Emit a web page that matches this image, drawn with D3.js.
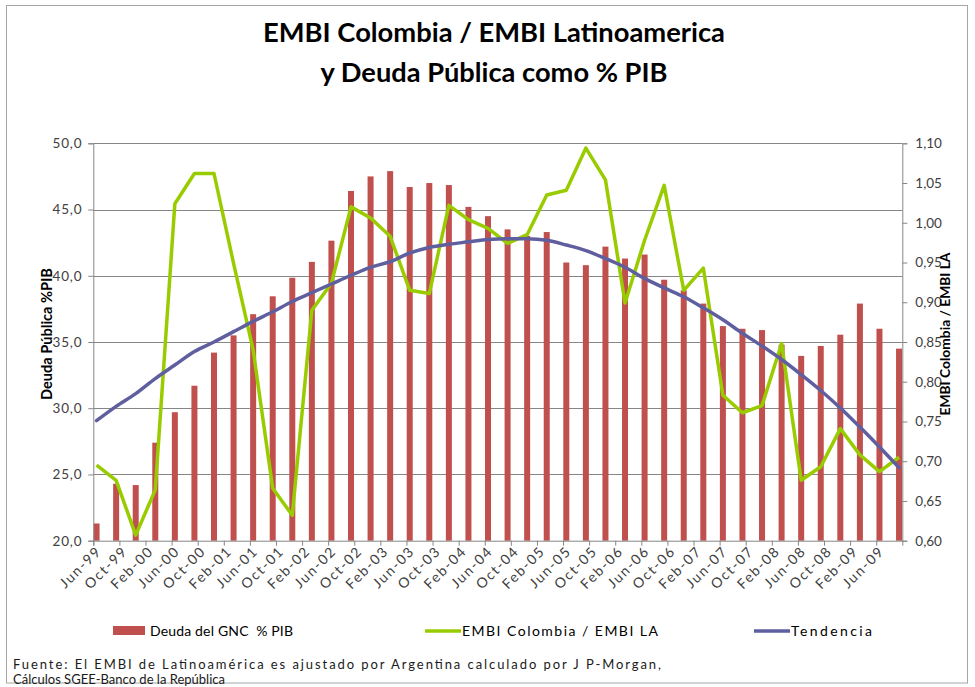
<!DOCTYPE html>
<html>
<head>
<meta charset="utf-8">
<script src="https://cdn.jsdelivr.net/npm/d3@7/dist/d3.min.js"></script>
<style>
  html, body { margin: 0; padding: 0; background: #fff; }
  svg { display: block; }
</style>
</head>
<body>
<svg id="chart" width="975" height="687"></svg>
<script>
// Quarterly observations, Jun-99 .. Sep-09
const quarters = ["Jun-99","Sep-99","Dec-99","Mar-00","Jun-00","Sep-00","Dec-00","Mar-01","Jun-01","Sep-01","Dec-01","Mar-02","Jun-02","Sep-02","Dec-02","Mar-03","Jun-03","Sep-03","Dec-03","Mar-04","Jun-04","Sep-04","Dec-04","Mar-05","Jun-05","Sep-05","Dec-05","Mar-06","Jun-06","Sep-06","Dec-06","Mar-07","Jun-07","Sep-07","Dec-07","Mar-08","Jun-08","Sep-08","Dec-08","Mar-09","Jun-09","Sep-09"];

// Deuda del GNC como % del PIB (left axis)
const deuda = [21.3,24.3,24.2,27.4,29.7,31.7,34.2,35.5,37.1,38.45,39.85,41.05,42.65,46.4,47.5,47.9,46.7,47.0,46.85,45.2,44.5,43.5,43.0,43.3,41.0,40.8,42.2,41.3,41.6,39.7,38.9,37.9,36.2,36.0,35.9,34.8,33.95,34.7,35.55,37.9,36.0,34.5];

// EMBI Colombia / EMBI LA (right axis)
const embi = [0.695,0.676,0.607,0.664,1.024,1.062,1.062,0.949,0.840,0.666,0.632,0.890,0.924,1.020,1.006,0.983,0.915,0.911,1.022,1.004,0.993,0.974,0.985,1.035,1.041,1.094,1.054,0.899,0.978,1.047,0.915,0.943,0.783,0.761,0.770,0.848,0.676,0.693,0.741,0.708,0.687,0.705];

// Tendencia del cociente EMBI (right axis)
const tendencia = [0.751,0.769,0.785,0.804,0.821,0.838,0.850,0.863,0.876,0.888,0.901,0.912,0.923,0.934,0.944,0.951,0.962,0.969,0.973,0.976,0.979,0.980,0.980,0.978,0.972,0.965,0.955,0.944,0.930,0.918,0.907,0.893,0.878,0.861,0.845,0.828,0.809,0.789,0.767,0.743,0.718,0.692];

// Category axis labels (every four months)
const xTickLabels = ["Jun-99","Oct-99","Feb-00","Jun-00","Oct-00","Feb-01","Jun-01","Oct-01","Feb-02","Jun-02","Oct-02","Feb-03","Jun-03","Oct-03","Feb-04","Jun-04","Oct-04","Feb-05","Jun-05","Oct-05","Feb-06","Jun-06","Oct-06","Feb-07","Jun-07","Oct-07","Feb-08","Jun-08","Oct-08","Feb-09","Jun-09"];

const leftTicks = [20,25,30,35,40,45,50];
const rightTicks = [0.60,0.65,0.70,0.75,0.80,0.85,0.90,0.95,1.00,1.05,1.10];

const titleLines = ["EMBI Colombia / EMBI Latinoamerica", "y Deuda Pública como % PIB"];
const legendLabels = ["Deuda del GNC  % PIB", "EMBI Colombia / EMBI LA", "Tendencia"];
const sourceLines = ["Fuente: El EMBI de Latinoamérica es ajustado por Argentina calculado por J P-Morgan,", "Cálculos SGEE-Banco de la República"];

// ---- helpers ----
const monthNames = {Jan:0,Feb:1,Mar:2,Apr:3,May:4,Jun:5,Jul:6,Aug:7,Sep:8,Oct:9,Nov:10,Dec:11};
// months elapsed since Jun-99
function monthIndex(label) {
  const [m, y] = label.split("-");
  return (2000 + (+y > 50 ? +y - 100 : +y) - 1999) * 12 + monthNames[m] - 5;
}
const fmt1 = d => d.toFixed(1).replace(".", ",");
const fmt2 = d => d.toFixed(2).replace(".", ",");
function fitWidth(sel, w) {
  const cur = sel.node().getComputedTextLength();
  const fs = parseFloat(sel.attr("font-size"));
  sel.attr("font-size", (fs * w / cur).toFixed(2));
}

// ---- layout ----
const svg = d3.select("#chart");
const plot = {left: 93.3, right: 902.3, top: 143.3, bottom: 540.7};
const axisColor = "#868686";
const textColor = "#404040";
const font = "Lato, 'Open Sans', sans-serif";

const lastMonth = monthIndex(quarters[quarters.length - 1]);
const x = d3.scaleLinear().domain([0, lastMonth + 1]).range([plot.left, plot.right]);
const yL = d3.scaleLinear().domain([20, 50]).range([plot.bottom, plot.top]);
const yR = d3.scaleLinear().domain([0.6, 1.1]).range([plot.bottom, plot.top]);
const xc = i => x(monthIndex(quarters[i]) + 0.5);

// outer frame
svg.append("rect").attr("x", 6.5).attr("y", 5.5).attr("width", 961).attr("height", 677.5)
  .attr("fill", "#fff").attr("stroke", "#a6a6a6").attr("stroke-width", 1);

// title
const tw = [462, 347];
titleLines.forEach((t, i) => {
  const s = svg.append("text").attr("x", 494).attr("y", 42 + i * 40)
    .attr("text-anchor", "middle").attr("font-family", font).attr("font-weight", "bold")
    .attr("font-size", 25).attr("fill", "#000").text(t);
  fitWidth(s, tw[i]);
});

// gridlines
svg.append("g").selectAll("line").data(leftTicks.filter(d => d > 20)).join("line")
  .attr("x1", plot.left).attr("x2", plot.right)
  .attr("y1", d => Math.round(yL(d)) + 0.5).attr("y2", d => Math.round(yL(d)) + 0.5)
  .attr("stroke", axisColor).attr("stroke-width", 1);

// bars
const barW = 6;
svg.append("g").selectAll("rect").data(deuda).join("rect")
  .attr("x", (d, i) => xc(i) - barW / 2).attr("width", barW)
  .attr("y", d => yL(d)).attr("height", d => yL(20) - yL(d))
  .attr("fill", "#C0504D");

// left axis
const gL = svg.append("g").attr("transform", `translate(${plot.left},0)`)
  .call(d3.axisLeft(yL).tickValues(leftTicks).tickSize(5).tickPadding(6).tickFormat(fmt1));
// right axis
const gR = svg.append("g").attr("transform", `translate(${plot.right},0)`)
  .call(d3.axisRight(yR).tickValues(rightTicks).tickSize(5).tickPadding(8).tickFormat(fmt2));
// bottom axis
const gB = svg.append("g").attr("transform", `translate(0,${plot.bottom})`)
  .call(d3.axisBottom(x).tickValues(xTickLabels.map(monthIndex)).tickSize(5)
    .tickFormat((d, i) => xTickLabels[i]));

[gL, gR, gB].forEach(g => {
  g.select(".domain").attr("stroke", axisColor);
  g.selectAll(".tick line").attr("stroke", axisColor);
  g.selectAll(".tick text").attr("fill", textColor).attr("font-family", font).attr("font-size", 13.5);
});
gL.selectAll(".tick text").attr("letter-spacing", 0.8);
gB.selectAll(".tick text")
  .attr("text-anchor", "end").attr("dx", 0).attr("dy", 0).attr("y", 14).attr("x", -2)
  .attr("transform", "rotate(-45)")
  .attr("font-size", 14).attr("letter-spacing", 1.6);

// EMBI line
const lineL = d3.line().x((d, i) => xc(i)).y(d => yR(d));
svg.append("path").datum(embi).attr("d", lineL)
  .attr("fill", "none").attr("stroke", "#99CC00").attr("stroke-width", 3.5)
  .attr("stroke-linejoin", "round");

// trend
const lineT = d3.line().x((d, i) => xc(i)).y(d => yR(d)).curve(d3.curveMonotoneX);
svg.append("path").datum(tendencia).attr("d", lineT)
  .attr("fill", "none").attr("stroke", "#5F5F9F").attr("stroke-width", 3.5)
  .attr("stroke-linecap", "round");

// axis titles
const tL = svg.append("text").attr("transform", "translate(52,334) rotate(-90)")
  .attr("text-anchor", "middle").attr("font-family", font).attr("font-weight", "bold")
  .attr("font-size", 13).attr("fill", "#000").text("Deuda Pública %PIB");
fitWidth(tL, 132);
const tR = svg.append("text").attr("transform", "translate(950,334) rotate(-90)")
  .attr("text-anchor", "middle").attr("font-family", font).attr("font-weight", "bold")
  .attr("font-size", 13).attr("fill", "#000").text("EMBI Colombia / EMBI LA");
fitWidth(tR, 163);

// legend
const lg = svg.append("g");
lg.append("rect").attr("x", 113).attr("y", 626).attr("width", 32).attr("height", 9).attr("fill", "#C0504D");
lg.append("line").attr("x1", 425).attr("x2", 461).attr("y1", 631).attr("y2", 631)
  .attr("stroke", "#99CC00").attr("stroke-width", 3.5);
lg.append("line").attr("x1", 754).attr("x2", 790).attr("y1", 631).attr("y2", 631)
  .attr("stroke", "#5F5F9F").attr("stroke-width", 3.5);
const legX = [150, 462, 791], legW = [143, 196, 81];
legendLabels.forEach((t, i) => {
  lg.append("text").attr("x", legX[i]).attr("y", 636)
    .attr("font-family", font).attr("font-size", 14).attr("fill", "#000")
    .attr("xml:space", "preserve").style("white-space", "pre")
    .attr("textLength", legW[i]).attr("lengthAdjust", "spacing").text(t);
});

// source notes
const srcW = [648, 212];
sourceLines.forEach((t, i) => {
  svg.append("text").attr("x", 13).attr("y", 669 + i * 14.5)
    .attr("font-family", font).attr("font-size", 13).attr("fill", "#1a1a1a")
    .attr("textLength", srcW[i]).attr("lengthAdjust", "spacing").text(t);
});
</script>
</body>
</html>
